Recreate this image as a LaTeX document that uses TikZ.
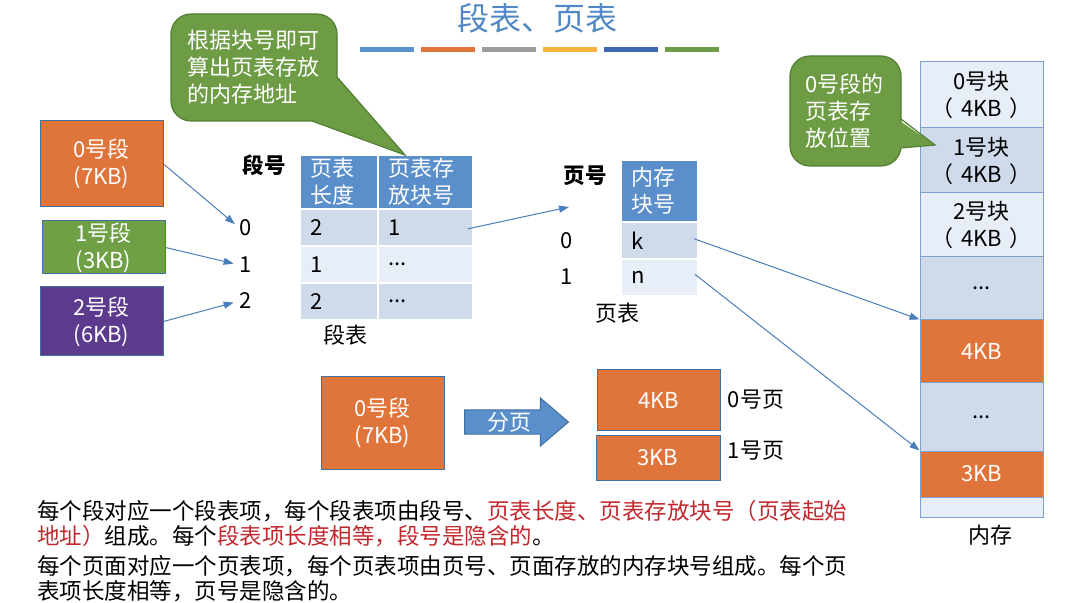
\documentclass[tikz,border=0pt]{standalone}
\usepackage{fontspec}
\setmainfont{Noto Sans CJK SC}
\usepackage{xcolor}
\usepackage{tikz}
\usetikzlibrary{positioning, arrows.meta, shapes.arrows}

\definecolor{titleblue}{HTML}{5087C4}
\definecolor{hdrblue}{HTML}{5B8FCB}
\definecolor{rowdark}{HTML}{CFDAEB}
\definecolor{rowlight}{HTML}{E8EEF7}
\definecolor{segorange}{HTML}{E0753B}
\definecolor{seggreen}{HTML}{6FA046}
\definecolor{segpurple}{HTML}{5C3A8E}
\definecolor{boxline}{HTML}{41719C}
\definecolor{linkblue}{HTML}{4A7EBB}
\definecolor{notegreen}{HTML}{6E9C45}
\definecolor{noteline}{HTML}{507E32}
\definecolor{memline}{HTML}{7F9FCF}
\definecolor{notered}{HTML}{C0282D}
\definecolor{barA}{HTML}{5B93CE}
\definecolor{barB}{HTML}{E0743A}
\definecolor{barC}{HTML}{9C9C9C}
\definecolor{barD}{HTML}{F4B43F}
\definecolor{barE}{HTML}{3E67B1}
\definecolor{barF}{HTML}{6E9D48}

\newcommand{\kb}[1]{（\hspace{0.35em}#1\hspace{0.35em}）}

\begin{document}
\begin{tikzpicture}[
    x=0.5pt, y=-0.5pt,
    font=\fontsize{11}{13.5}\selectfont,
    blk/.style={draw=boxline, line width=0.5pt, inner sep=0pt, align=center, text=white},
    cell/.style={draw=white, line width=1pt, inner xsep=5pt, inner ysep=0pt, align=left},
    mem/.style={draw=memline, line width=0.5pt, minimum width=61.5pt, inner sep=0pt, align=center},
    note/.style={draw=noteline, fill=notegreen, line width=0.6pt, rounded corners=10pt, text=white, align=left, inner ysep=0pt},
    lbl/.style={inner sep=0pt},
    link/.style={-{Triangle[length=5pt, width=3.5pt]}, draw=linkblue, line width=0.5pt}
]
\useasboundingbox (0,0) rectangle (1074,603);

% title and colour bars
\node[text=titleblue, font=\fontsize{16}{19}\selectfont] (title) at (537,18) {段表、页表};
\foreach \c [count=\i from 0] in {barA,barB,barC,barD,barE,barF}
    \fill[\c] (360+61*\i,47.5) rectangle +(54,5);

% segments
\node[blk, fill=segorange, minimum width=61.5pt, minimum height=43pt] (seg0) at (101.5,164) {0号段\\(7KB)};
\node[blk, fill=seggreen, minimum width=61.5pt, minimum height=26.5pt] (seg1) at (103.5,247.5) {1号段\\(3KB)};
\node[blk, fill=segpurple, minimum width=61.5pt, minimum height=34.5pt] (seg2) at (101.5,321.5) {2号段\\(6KB)};

\node[lbl] (sn0) at (246,228) {0};
\node[lbl] (sn1) at (246,265) {1};
\node[lbl] (sn2) at (246,301) {2};
\node[lbl, font=\fontsize{10.75}{13}\selectfont\bfseries] (segno) at (264,165) {段号};

% segment table
\node[cell, fill=hdrblue, text=white, text width=29pt, minimum height=27pt] (sth1) at (339,182) {页表\\长度};
\node[cell, fill=hdrblue, text=white, text width=37.5pt, minimum height=27pt] (sth2) at (425.5,182) {页表存\\放块号};
\node[cell, fill=rowdark, text width=29pt, minimum height=18.5pt] (st01) at (339,227.5) {2};
\node[cell, fill=rowdark, text width=37.5pt, minimum height=18.5pt] (st02) at (425.5,227.5) {1};
\node[cell, fill=rowlight, text width=29pt, minimum height=18.5pt] (st11) at (339,264.5) {1};
\node[cell, fill=rowlight, text width=37.5pt, minimum height=18.5pt] (st12) at (425.5,264.5) {...};
\node[cell, fill=rowdark, text width=29pt, minimum height=18.5pt] (st21) at (339,301.5) {2};
\node[cell, fill=rowdark, text width=37.5pt, minimum height=18.5pt] (st22) at (425.5,301.5) {...};
\node[lbl] (segtab) at (345,335) {段表};

% page table
\node[lbl, font=\fontsize{10.75}{13}\selectfont\bfseries] (pageno) at (585,176) {页号};
\node[cell, fill=hdrblue, text=white, text width=28.5pt, minimum height=31pt] (pth) at (659.5,191) {内存\\块号};
\node[cell, fill=rowdark, text width=28.5pt, minimum height=18.5pt] (pk) at (659.5,240.5) {k};
\node[cell, fill=rowlight, text width=28.5pt, minimum height=18.5pt] (pn) at (659.5,277.5) {n};
\node[lbl] (pn0) at (567,241) {0};
\node[lbl] (pn1) at (567,277) {1};
\node[lbl] (pagetab) at (617,313) {页表};
\coordinate (ptin) at (569,207);

% memory
\node[mem, fill=rowlight, minimum height=33pt] (mem0) at (981.5,95) {0号块\\\kb{4KB}};
\node[mem, fill=rowdark, minimum height=32.5pt] (mem1) at (981.5,160.5) {1号块\\\kb{4KB}};
\node[mem, fill=rowlight, minimum height=32pt] (mem2) at (981.5,225) {2号块\\\kb{4KB}};
\node[mem, fill=rowdark, minimum height=31.5pt] (mem3) at (981.5,288.5) {...};
\node[mem, fill=segorange, text=white, minimum height=31.5pt] (mem4) at (981.5,351.5) {4KB};
\node[mem, fill=rowdark, minimum height=34pt] (mem5) at (981.5,417) {...};
\node[mem, fill=segorange, text=white, minimum height=23pt] (mem6) at (981.5,474) {3KB};
\node[mem, fill=rowlight, minimum height=10pt] (mem7) at (981.5,507) {};
\node[lbl] (memlbl) at (990,535) {内存};

% callouts
\node[note, minimum width=83pt, minimum height=53.5pt, text width=67pt, inner xsep=8pt] (note1) at (254,67.5) {根据块号即可\\算出页表存放\\的内存地址};
\coordinate (n1a) at (337,77);
\coordinate (n1b) at (312,121);
\coordinate (tip1) at (405,155);
\fill[notegreen] (n1a) -- (tip1) -- (n1b) -- cycle;
\draw[noteline, line width=0.6pt] (n1a) -- (tip1) -- (n1b);

\node[note, minimum width=55.5pt, minimum height=55pt, text width=40pt, inner xsep=7.75pt] (note2) at (845.5,111) {0号段的\\页表存\\放位置};
\coordinate (n2a) at (901,119);
\coordinate (n2b) at (901,148);
\coordinate (tip2) at (935,145);
\fill[notegreen] (897,119) -- (tip2) -- (897,148) -- cycle;
\draw[noteline, line width=0.6pt] (n2a) -- (tip2) -- (n2b);

% paging of segment 0
\node[blk, fill=segorange, minimum width=61.5pt, minimum height=46pt] (bseg) at (382.5,423) {0号段\\(7KB)};
\node[single arrow, draw=boxline, fill=hdrblue, text=white, line width=0.5pt,
      minimum height=52pt, minimum width=24pt, inner ysep=0.75pt,
      single arrow head extend=5.75pt, single arrow tip angle=81,
      anchor=tail] (split) at (464,422) {分页};
\node[blk, fill=segorange, minimum width=61.5pt, minimum height=30pt] (pg0) at (658.5,400) {4KB};
\node[blk, fill=segorange, minimum width=62pt, minimum height=22.5pt] (pg1) at (658,457.5) {3KB};
\node[lbl] (pg0lbl) at (756,400) {0号页};
\node[lbl] (pg1lbl) at (756,451) {1号页};

% connectors
\draw[link, shorten >=3pt] (seg0.east) -- (sn0.west);
\draw[link, shorten >=3pt] (seg1.east) -- (sn1.west);
\draw[link, shorten >=3pt] (seg2.east) -- (sn2.west);
\draw[link, shorten <=-3pt] (st02.east) -- (ptin);
\draw[link, shorten <=-2.5pt] (pk.east) -- (mem4.north west);
\draw[link, shorten <=-2.5pt] (pn.east) -- (mem6.north west);

% notes text
\begin{scope}[font=\fontsize{11.25}{13}\selectfont]
\node[lbl, anchor=west] (txt1) at (37,511) {每个段对应一个段表项，每个段表项由段号、\textcolor{notered}{页表长度、页表存放块号（页表起始}};
\node[lbl, anchor=west] (txt2) at (37,536) {\textcolor{notered}{地址）}组成。每个\textcolor{notered}{段表项长度相等，段号是隐含的}。};
\node[lbl, anchor=west] (txt3) at (37,566) {每个页面对应一个页表项，每个页表项由页号、页面存放的内存块号组成。每个页};
\node[lbl, anchor=west] (txt4) at (37,591) {表项长度相等，页号是隐含的。};
\end{scope}

\end{tikzpicture}
\end{document}
